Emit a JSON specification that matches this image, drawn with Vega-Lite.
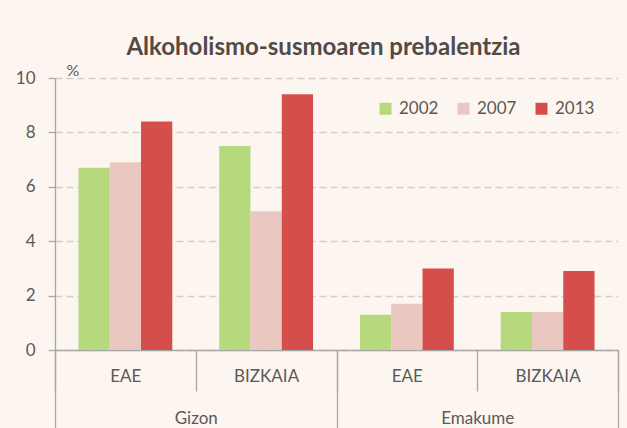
{
  "$schema": "https://vega.github.io/schema/vega-lite/v6.json",
  "width": 563,
  "height": 272,
  "autosize": {"type": "none"},
  "padding": {"left": 55, "top": 78, "right": 9, "bottom": 78},
  "background": "#fdf6f0",
  "config": {"font": "Lato", "view": {"stroke": null}},
  "title": {
    "text": "Alkoholismo-susmoaren prebalentzia",
    "font": "Lato",
    "fontSize": 24,
    "fontWeight": "bold",
    "color": "#514b47",
    "anchor": "middle",
    "frame": "group",
    "baseline": "alphabetic",
    "offset": 21,
    "dx": -13,
    "dy": 38
  },
  "data": {
    "values": [
      {"sex": "Gizon", "grp": "Gizon EAE", "year": "2002", "value": 6.7},
      {"sex": "Gizon", "grp": "Gizon EAE", "year": "2007", "value": 6.9},
      {"sex": "Gizon", "grp": "Gizon EAE", "year": "2013", "value": 8.4},
      {"sex": "Gizon", "grp": "Gizon BIZKAIA", "year": "2002", "value": 7.5},
      {"sex": "Gizon", "grp": "Gizon BIZKAIA", "year": "2007", "value": 5.1},
      {"sex": "Gizon", "grp": "Gizon BIZKAIA", "year": "2013", "value": 9.4},
      {"sex": "Emakume", "grp": "Emakume EAE", "year": "2002", "value": 1.3},
      {"sex": "Emakume", "grp": "Emakume EAE", "year": "2007", "value": 1.7},
      {"sex": "Emakume", "grp": "Emakume EAE", "year": "2013", "value": 3.0},
      {"sex": "Emakume", "grp": "Emakume BIZKAIA", "year": "2002", "value": 1.4},
      {"sex": "Emakume", "grp": "Emakume BIZKAIA", "year": "2007", "value": 1.4},
      {"sex": "Emakume", "grp": "Emakume BIZKAIA", "year": "2013", "value": 2.9}
    ]
  },
  "layer": [
    {
      "mark": {"type": "bar"},
      "encoding": {
        "x": {
          "field": "grp",
          "type": "nominal",
          "sort": ["Gizon EAE", "Gizon BIZKAIA", "Emakume EAE", "Emakume BIZKAIA"],
          "scale": {"paddingInner": 0, "paddingOuter": 0},
          "axis": {
            "orient": "bottom",
            "title": null,
            "labelAngle": 0,
            "labelExpr": "split(datum.label, ' ')[1]",
            "labelFontSize": 17,
            "labelColor": "#595959",
            "labelPadding": -23,
            "tickSize": 41,
            "tickBand": "extent",
            "tickColor": "#a6a6a6",
            "tickWidth": 1.3,
            "domainColor": "#a6a6a6",
            "domainWidth": 1.3
          }
        },
        "xOffset": {
          "field": "year",
          "type": "nominal",
          "scale": {"paddingOuter": 0.75, "paddingInner": 0}
        },
        "y": {
          "field": "value",
          "type": "quantitative",
          "scale": {"domain": [0, 10]},
          "axis": {
            "values": [0, 2, 4, 6, 8, 10],
            "title": "%",
            "titleAngle": 0,
            "titleX": 11,
            "titleY": -3,
            "titleAlign": "left",
            "titleBaseline": "alphabetic",
            "titleFontSize": 16,
            "titleFontWeight": "normal",
            "titleColor": "#595959",
            "labelFontSize": 17,
            "labelColor": "#595959",
            "labelPadding": 13,
            "tickSize": 7,
            "tickColor": "#a6a6a6",
            "tickWidth": 1.3,
            "domainColor": "#a6a6a6",
            "domainWidth": 1.3,
            "gridColor": "#d6cdc7",
            "gridDash": [7, 4],
            "gridWidth": 1.3
          }
        },
        "color": {
          "field": "year",
          "type": "nominal",
          "scale": {"domain": ["2002", "2007", "2013"], "range": ["#b6d97e", "#ebc7c1", "#d64e4b"]},
          "legend": {
            "orient": "none",
            "legendX": 322,
            "legendY": 22,
            "direction": "horizontal",
            "title": null,
            "symbolType": "square",
            "symbolSize": 144,
            "symbolStrokeWidth": 0,
            "labelFontSize": 17,
            "labelColor": "#595959",
            "labelOffset": 5,
            "columnPadding": 16
          }
        }
      }
    },
    {
      "mark": {"type": "point", "opacity": 0},
      "encoding": {
        "x": {
          "field": "sex",
          "type": "nominal",
          "sort": ["Gizon", "Emakume"],
          "scale": {"paddingInner": 0, "paddingOuter": 0},
          "axis": {
            "orient": "bottom",
            "title": null,
            "labelAngle": 0,
            "labelFontSize": 17,
            "labelColor": "#595959",
            "labelPadding": -18,
            "tickSize": 78,
            "tickBand": "extent",
            "tickColor": "#a6a6a6",
            "tickWidth": 1.3,
            "domain": false,
            "grid": false
          }
        },
        "y": {"field": "value", "type": "quantitative"}
      }
    }
  ],
  "resolve": {"scale": {"x": "independent"}, "axis": {"x": "independent"}}
}
